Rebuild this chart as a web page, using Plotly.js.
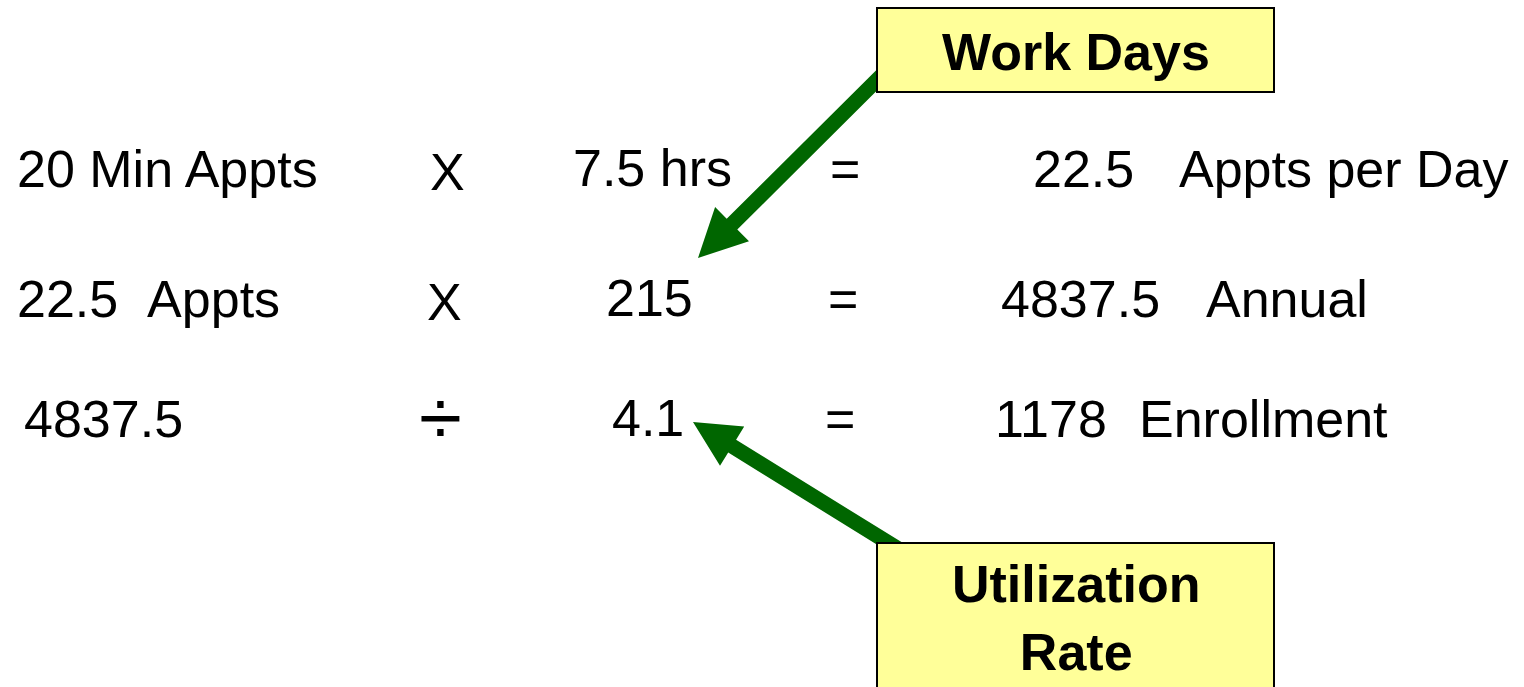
<!DOCTYPE html>
<html>
<head>
<meta charset="utf-8">
<script src="https://cdn.plot.ly/plotly-3.0.1.min.js"></script>
<style>html,body{margin:0;padding:0;background:#fff;}#chart{width:1524px;height:687px;}</style>
</head>
<body>
<div id="chart"></div>
<script>
// ---- content (text values) ----
const leftTerms   = ["20 Min Appts", "22.5\u00a0\u00a0Appts", "4837.5"];
const operators   = ["X", "X", "\u00f7"];
const operands    = ["7.5 hrs", "215", "4.1"];
const equalsSigns = ["=", "=", "="];
const results     = ["22.5", "4837.5", "1178"];
const resultUnits = ["Appts per Day", "Annual", "Enrollment"];
const callouts    = ["Work Days", "Utilization<br>Rate"];

// ---- layout geometry (pixel space, y downward) ----
const rowY      = [169, 299, 419];
const leftX     = [15, 15, 22];
const opX       = [447, 444, 440];
const opY       = [172, 302, 418];
const opSize    = [52, 52, 78];
const operandX  = [571, 604, 610];
const eqX       = [845, 843, 840];
const resultX   = [1031, 999, 993];
const unitX     = [1177, 1204, 1137];

const FONT = "Liberation Sans, Arial, sans-serif";
const SIZE = 52;
const annotations = [];
function txt(text, x, y, anchor, size) {
  annotations.push({
    text: text, x: x, y: y, xref: 'x', yref: 'y',
    xanchor: anchor, yanchor: 'middle', showarrow: false,
    font: {family: FONT, size: size || SIZE, color: '#000'}
  });
}
for (let i = 0; i < 3; i++) {
  txt(leftTerms[i], leftX[i], rowY[i], 'left');
  txt(operators[i], opX[i], opY[i], 'center', opSize[i]);
  txt(operands[i], operandX[i], rowY[i] - 1, 'left');
  txt(equalsSigns[i], eqX[i], rowY[i], 'center');
  txt(results[i], resultX[i], rowY[i], 'left');
  txt(resultUnits[i], unitX[i], rowY[i], 'left');
}

// callout boxes
const boxes = [
  {x0: 877, x1: 1274, y0: 8, y1: 92, tx: 1076, ty: 52},
  {x0: 877, x1: 1274, y0: 543, y1: 720, tx: 1076, ty: 618}
];
// arrows: tip and tail
const arrows = [
  {tip: [698, 258], tail: [885, 72], headLen: 48, headHalf: 24, shaftHalf: 7.5},
  {tip: [693, 422], tail: [900, 550], headLen: 46, headHalf: 23, shaftHalf: 7.5}
];
function arrowPath(a) {
  const dx = a.tail[0] - a.tip[0], dy = a.tail[1] - a.tip[1];
  const L = Math.hypot(dx, dy);
  const ux = dx / L, uy = dy / L;
  const px = -uy, py = ux;
  const bx = a.tip[0] + ux * a.headLen, by = a.tip[1] + uy * a.headLen;
  const pts = [
    a.tip,
    [bx + px * a.headHalf, by + py * a.headHalf],
    [bx + px * a.shaftHalf, by + py * a.shaftHalf],
    [a.tail[0] + px * a.shaftHalf, a.tail[1] + py * a.shaftHalf],
    [a.tail[0] - px * a.shaftHalf, a.tail[1] - py * a.shaftHalf],
    [bx - px * a.shaftHalf, by - py * a.shaftHalf],
    [bx - px * a.headHalf, by - py * a.headHalf]
  ];
  return 'M ' + pts.map(p => p[0].toFixed(1) + ',' + p[1].toFixed(1)).join(' L ') + ' Z';
}
const shapes = [];
arrows.forEach(a => shapes.push({
  type: 'path', xref: 'x', yref: 'y', path: arrowPath(a),
  fillcolor: '#006600', line: {width: 0}, layer: 'above'
}));
boxes.forEach(b => {
  shapes.push({type: 'rect', xref: 'x', yref: 'y', x0: b.x0, x1: b.x1, y0: b.y0, y1: b.y1,
    fillcolor: '#FFFF99', line: {color: '#000', width: 2}, layer: 'above'});
});
boxes.forEach((b, i) => {
  txt('<b>' + callouts[i] + '</b>', b.tx, b.ty, 'center');
});

const layout = {
  width: 1524, height: 687,
  margin: {l: 0, r: 0, t: 0, b: 0},
  paper_bgcolor: '#fff', plot_bgcolor: '#fff',
  xaxis: {range: [0, 1524], visible: false, fixedrange: true},
  yaxis: {range: [687, 0], visible: false, fixedrange: true},
  showlegend: false,
  shapes: shapes,
  annotations: annotations
};
Plotly.newPlot('chart', [{x: [], y: [], type: 'scatter', mode: 'markers', hoverinfo: 'skip'}], layout, {staticPlot: true, displayModeBar: false});
</script>
</body>
</html>
